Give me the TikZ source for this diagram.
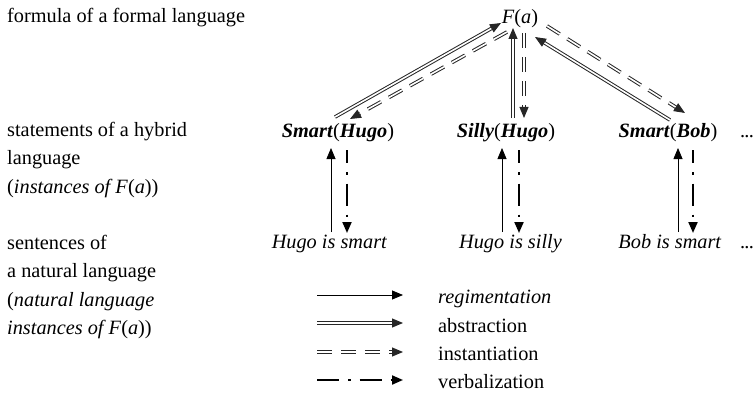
\documentclass[tikz,border=0pt]{standalone}
\usepackage{fontspec}
\setmainfont{Liberation Serif}
\usetikzlibrary{arrows.meta,calc}
\tikzset{
  lbl/.style={inner sep=0pt, anchor=base west, font=\fontsize{20.3}{28}\selectfont},
  txt/.style={inner sep=0pt, anchor=base, font=\fontsize{20.3}{28}\selectfont},
  tip/.style={-{Triangle[length=11pt,width=9pt]}},
  regim/.style={draw=black, line width=0.8pt, tip},
  abstr/.style={draw=black!85, double=white, line width=1pt, double distance=1.6pt, tip},
  inst/.style={draw=black!85, double=white, line width=1pt, double distance=1.6pt, dash pattern=on 15pt off 9pt, tip},
  verb/.style={draw=black, line width=2pt, dash pattern=on 22pt off 9pt on 2.5pt off 9pt, tip},
}
\begin{document}
\begin{tikzpicture}[x=1pt,y=-1pt]
\useasboundingbox (0,0) rectangle (753,396);
% left column
\node[lbl] (c1) at (7,23) {formula of a formal language};
\node[lbl] (c2) at (7,136) {statements of a hybrid};
\node[lbl] (c3) at (7,164.5) {language};
\node[lbl] (c4) at (7,193) {(\textit{instances of F}(\textit{a}))};
\node[lbl] (c5) at (7,249) {sentences of};
\node[lbl] (c6) at (7,277.5) {a natural language};
\node[lbl] (c7) at (7,306) {(\textit{natural language}};
\node[lbl] (c8) at (7,334) {\textit{instances of F}(\textit{a}))};
% formula
\node[txt] (fa) at (520,24) {\textit{F}(\textit{a})};
% statements
\node[txt] (sh) at (338,137) {\textbf{\textit{Smart}}(\textbf{\textit{Hugo}})};
\node[txt] (si) at (506,137) {\textbf{\textit{Silly}}(\textbf{\textit{Hugo}})};
\node[txt] (sb) at (668,137) {\textbf{\textit{Smart}}(\textbf{\textit{Bob}})};
\node[lbl] (d1) at (740,137) {.\kern-0.8pt.\kern-0.8pt.};
% sentences
\node[txt] (nh) at (329.5,248) {\textit{Hugo is smart}};
\node[txt] (ni) at (510.5,248) {\textit{Hugo is silly}};
\node[txt] (nb) at (670,248) {\textit{Bob is smart}};
\node[lbl] (d2) at (740,248) {.\kern-0.8pt.\kern-0.8pt.};
% top connectors
\draw[abstr] ($(sh.base)+(-3,-20)$) -- ($(fa.base)+(-19,-1)$);
\draw[inst]  ($(fa.base)+(-13,8)$) -- ($(sh.base)+(12,-18)$);
\draw[abstr] ($(si.base)+(7,-19)$) -- ($(fa.base)+(-7,4)$);
\draw[inst]  ($(fa.base)+(4,9)$) -- ($(si.base)+(18,-19)$);
\draw[abstr] ($(sb.base)+(2,-17)$) -- ($(fa.base)+(15,13)$);
\draw[inst]  ($(fa.base)+(27,2)$) -- ($(sb.base)+(17,-24)$);
% vertical connectors
\draw[regim] ($(nh.base)+(1.5,-16)$) -- ($(sh.base)+(-7,11)$);
\draw[verb, dash phase=9pt]  ($(sh.base)+(9,13)$) -- ($(nh.base)+(17.5,-15)$);
\draw[regim] ($(ni.base)+(-8.5,-16)$) -- ($(si.base)+(-4,11)$);
\draw[verb, dash phase=9pt]  ($(si.base)+(13,13)$) -- ($(ni.base)+(8.5,-15)$);
\draw[regim] ($(nb.base)+(8,-16)$) -- ($(sb.base)+(10,11)$);
\draw[verb, dash phase=9pt]  ($(sb.base)+(25,13)$) -- ($(nb.base)+(23,-15)$);
% legend
\node[lbl] (lr) at (438,303) {\textit{regimentation}};
\node[lbl] (la) at (438,332) {abstraction};
\node[lbl] (li) at (438,360) {instantiation};
\node[lbl] (lv) at (438,388) {verbalization};
\draw[regim] ($(lr.base west)+(-121,-8)$) -- ($(lr.base west)+(-35,-8)$);
\draw[abstr] ($(la.base west)+(-121,-9)$) -- ($(la.base west)+(-35,-9)$);
\draw[inst]  ($(li.base west)+(-121,-8)$) -- ($(li.base west)+(-35,-8)$);
\draw[verb]  ($(lv.base west)+(-121,-8)$) -- ($(lv.base west)+(-35,-8)$);
\end{tikzpicture}
\end{document}
